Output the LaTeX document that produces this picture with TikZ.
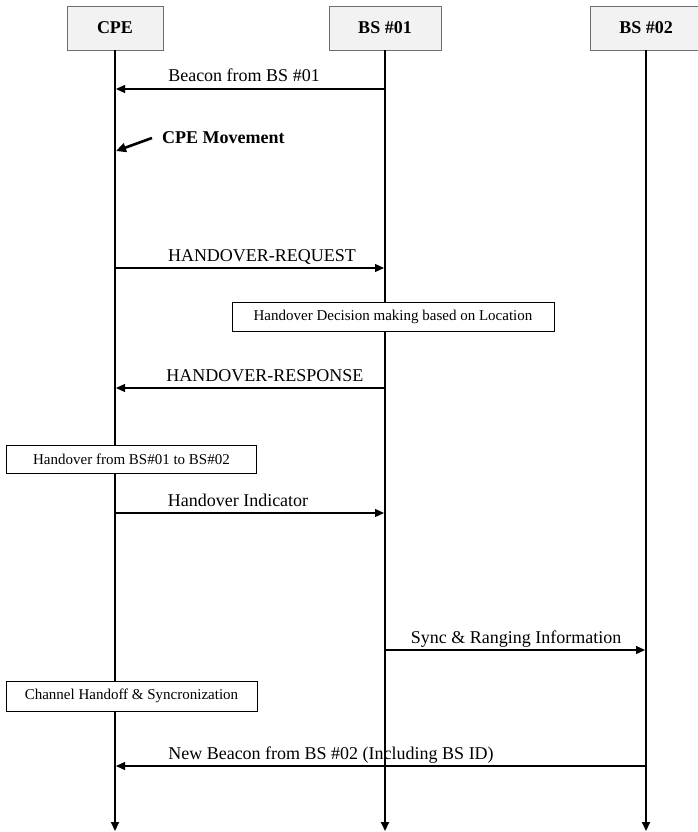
\documentclass[tikz,border=0pt]{standalone}
\usepackage{fontspec}
\setmainfont{Liberation Serif}
\usetikzlibrary{arrows.meta}
\definecolor{hdrfill}{RGB}{242,242,242}
\definecolor{hdrline}{RGB}{110,110,110}
\begin{document}
\begin{tikzpicture}[x=1pt,y=-1pt,
  hdr/.style={draw=hdrline,line width=0.8pt,fill=hdrfill,minimum width=112pt,minimum height=44pt,inner sep=0pt,font=\fontsize{18}{20}\selectfont\bfseries},
  life/.style={line width=2pt,-{Triangle[length=9pt,width=8pt]}},
  msg/.style={line width=1.3pt,-{Triangle[length=9pt,width=8pt]}},
  lbl/.style={anchor=base,inner sep=0pt,font=\fontsize{18}{20}\selectfont},
  actbox/.style={draw,line width=1pt,fill=white,inner sep=0pt,font=\fontsize{15}{17}\selectfont},
  movearrow/.style={line width=2.6pt,-{Triangle[length=10pt,width=9pt]}}]
\useasboundingbox (0,0) rectangle (698,832);
% headers
\node[hdr,minimum width=96pt] (cpe) at (115,28) {CPE};
\node[hdr] (bs1) at (385,28) {BS \#01};
\node[hdr] (bs2) at (646,28) {BS \#02};
% lifeline ends
\coordinate (cpeEnd) at (115,831);
\coordinate (bs1End) at (385,831);
\coordinate (bs2End) at (646,831);
\draw[life] (cpe.south) -- (cpeEnd);
\draw[life] (bs1.south) -- (bs1End);
\draw[life] (bs2.south) -- (bs2End);
% message anchor points
\coordinate (m1a) at (385,89);  \coordinate (m1b) at (116,89);
\coordinate (m2a) at (115,268); \coordinate (m2b) at (384,268);
\coordinate (m3a) at (385,388); \coordinate (m3b) at (116,388);
\coordinate (m4a) at (115,513); \coordinate (m4b) at (384,513);
\coordinate (m5a) at (385,650); \coordinate (m5b) at (645,650);
\coordinate (m6a) at (646,766); \coordinate (m6b) at (116,766);
\coordinate (mvA) at (152,138); \coordinate (mvB) at (116,151);
% messages
\draw[msg] (m1a) -- (m1b);
\node[lbl] (l1) at (244,82) {Beacon from BS \#01};
\draw[movearrow] (mvA) -- (mvB);
\node[lbl,anchor=base west,font=\fontsize{18}{20}\selectfont\bfseries] (l2) at (162,143) {CPE Movement};
\draw[msg] (m2a) -- (m2b);
\node[lbl] (l3) at (262,261) {HANDOVER-REQUEST};
\node[actbox,minimum width=322pt,minimum height=29pt] (b1) at (393,316.5) {Handover Decision making based on Location};
\draw[msg] (m3a) -- (m3b);
\node[lbl] (l4) at (265,381) {HANDOVER-RESPONSE};
\node[actbox,minimum width=250pt,minimum height=28pt] (b2) at (131.5,459) {Handover from BS\#01 to BS\#02};
\draw[msg] (m4a) -- (m4b);
\node[lbl] (l5) at (238,506) {Handover Indicator};
\draw[msg] (m5a) -- (m5b);
\node[lbl] (l6) at (516,643) {Sync \& Ranging Information};
\node[actbox,minimum width=251pt,minimum height=30pt] (b3) at (131.5,696) {Channel Handoff \& Syncronization};
\draw[msg] (m6a) -- (m6b);
\node[lbl] (l7) at (331,759) {New Beacon from BS \#02 (Including BS ID)};
\end{tikzpicture}
\end{document}
